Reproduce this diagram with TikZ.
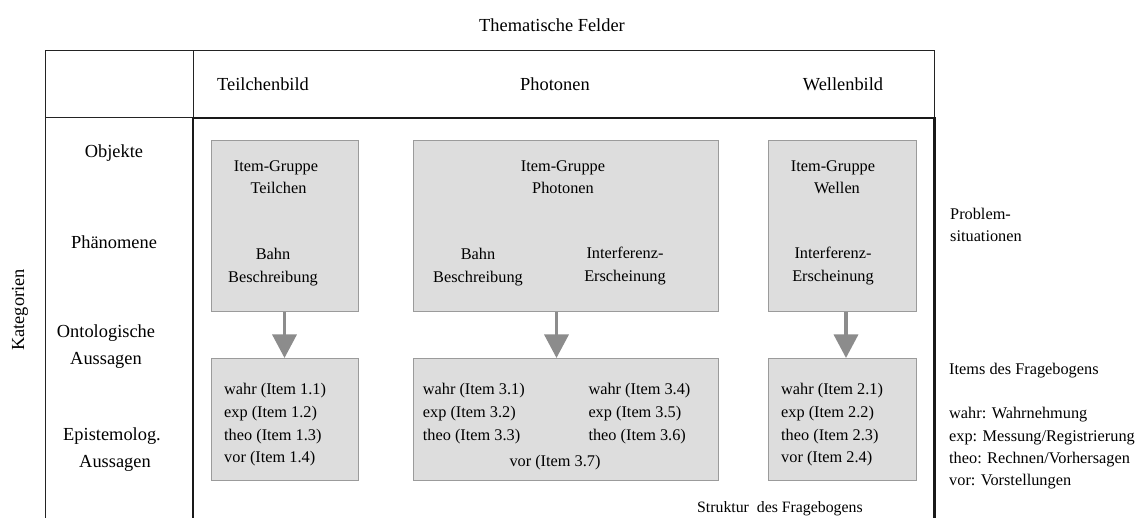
\documentclass[tikz,border=0pt]{standalone}
\usepackage{fontspec}
\setmainfont{Liberation Serif}
\usetikzlibrary{arrows.meta,calc}

\definecolor{boxfill}{RGB}{221,221,221}
\definecolor{boxline}{RGB}{155,155,155}
\definecolor{arrowgray}{RGB}{140,140,140}
\definecolor{frameline}{RGB}{35,35,35}

\tikzset{
  lbl/.style={inner sep=0pt, font=\fontsize{18.4}{27}\selectfont, align=center},
  txt/.style={inner sep=0pt, font=\fontsize{16.3}{22.4}\selectfont, align=center},
  lst/.style={inner sep=0pt, font=\fontsize{16.3}{22.7}\selectfont, align=left},
  grp/.style={draw=boxline, fill=boxfill, line width=1pt, inner sep=0pt},
  flow/.style={draw=arrowgray, line width=3.4pt, -{Triangle[width=24pt,length=23.5pt]}},
  thinframe/.style={draw=frameline, line width=1pt},
  thickframe/.style={draw=black!90, line width=2.6pt},
}

\begin{document}
\begin{tikzpicture}[x=1pt,y=-1pt]
  \useasboundingbox (0,0) rectangle (1136,518);

  % table frame
  \draw[thinframe] (45,520) -- (45,51) -- (934,51) -- (934,118);
  \draw[thinframe] (45,117.5) -- (193,117.5);
  \draw[thinframe] (193,51) -- (193,118);
  \draw[thickframe] (193,520) -- (193,118) -- (934.5,118) -- (934.5,520);

  % column and row headings
  \node[lbl] (felder) at (552,25) {Thematische Felder};
  \node[lbl] (hteil) at (263,84) {Teilchenbild};
  \node[lbl] (hphot) at (555,84) {Photonen};
  \node[lbl] (hwell) at (843,84) {Wellenbild};

  \node[lbl] (kat) at (20,310) [rotate=90] {Kategorien};
  \node[lbl] (obj) at (114,153) {Objekte};
  \node[lbl] (phae) at (114,242) {Phänomene};
  \node[lbl] (onto) at (106,347) {Ontologische\\Aussagen};
  \node[lbl] (epist) at (112,450) {Epistemolog.\\\hspace*{6pt}Aussagen};

  % item groups
  \node[grp, minimum width=147pt, minimum height=171pt] (tt) at (284.5,226.5) {};
  \node[grp, minimum width=147pt, minimum height=122.5pt] (tb) at (284.5,419.75) {};
  \node[grp, minimum width=305pt, minimum height=171pt] (pt) at (565.5,226.5) {};
  \node[grp, minimum width=305pt, minimum height=122.5pt] (pb) at (565.5,419.75) {};
  \node[grp, minimum width=148pt, minimum height=171pt] (wt) at (842,226.5) {};
  \node[grp, minimum width=148pt, minimum height=122.5pt] (wb) at (842,419.75) {};

  % group contents
  \node[txt] (tt1) at (276,177) {Item-Gruppe\\\hspace*{5pt}Teilchen};
  \node[txt] (tt2) at (273,267) {Bahn\\Beschreibung};
  \node[txt] (pt1) at (563,177) {Item-Gruppe\\Photonen};
  \node[txt] (pt2) at (478,267) {Bahn\\Beschreibung};
  \node[txt] (pt3) at (625,266) {Interferenz-\\Erscheinung};
  \node[txt] (wt1) at (833,177) {Item-Gruppe\\\hspace*{8pt}Wellen};
  \node[txt] (wt2) at (833,266) {Interferenz-\\Erscheinung};

  \node[lst, anchor=west] (tb1) at (224,425) {wahr (Item 1.1)\\exp (Item 1.2)\\theo (Item 1.3)\\vor (Item 1.4)};
  \node[lst, anchor=west] (pb1) at (422.7,413.5) {wahr (Item 3.1)\\exp (Item 3.2)\\theo (Item 3.3)};
  \node[lst, anchor=west] (pb2) at (588.3,413.5) {wahr (Item 3.4)\\exp (Item 3.5)\\theo (Item 3.6)};
  \node[txt] (pb3) at (555,463) {vor (Item 3.7)};
  \node[lst, anchor=west] (wb1) at (781,425) {wahr (Item 2.1)\\exp (Item 2.2)\\theo (Item 2.3)\\vor (Item 2.4)};

  % arrows from groups to items
  \draw[flow] (tt.south) -- (tb.north);
  \draw[flow] ($(pt.south)+(-9,0)$) -- ($(pb.north)+(-9,0)$);
  \draw[flow] ($(wt.south)+(4,0)$) -- ($(wb.north)+(4,0)$);

  % side notes
  \node[lst, anchor=west] (prob) at (950,225) {Problem-\\situationen};
  \node[lst, anchor=west] (items) at (949,371) {Items des Fragebogens};
  \node[lst, anchor=west, font=\fontsize{16.3}{22.3}\selectfont] (legend) at (949,448.5)
    {wahr: Wahrnehmung\\exp: Messung/Registrierung\\theo: Rechnen/Vorhersagen\\vor: Vorstellungen};
  \node[lst, anchor=west, font=\fontsize{15.8}{20}\selectfont] (struk) at (697,509) {Struktur\ \ des Fragebogens};
\end{tikzpicture}
\end{document}
